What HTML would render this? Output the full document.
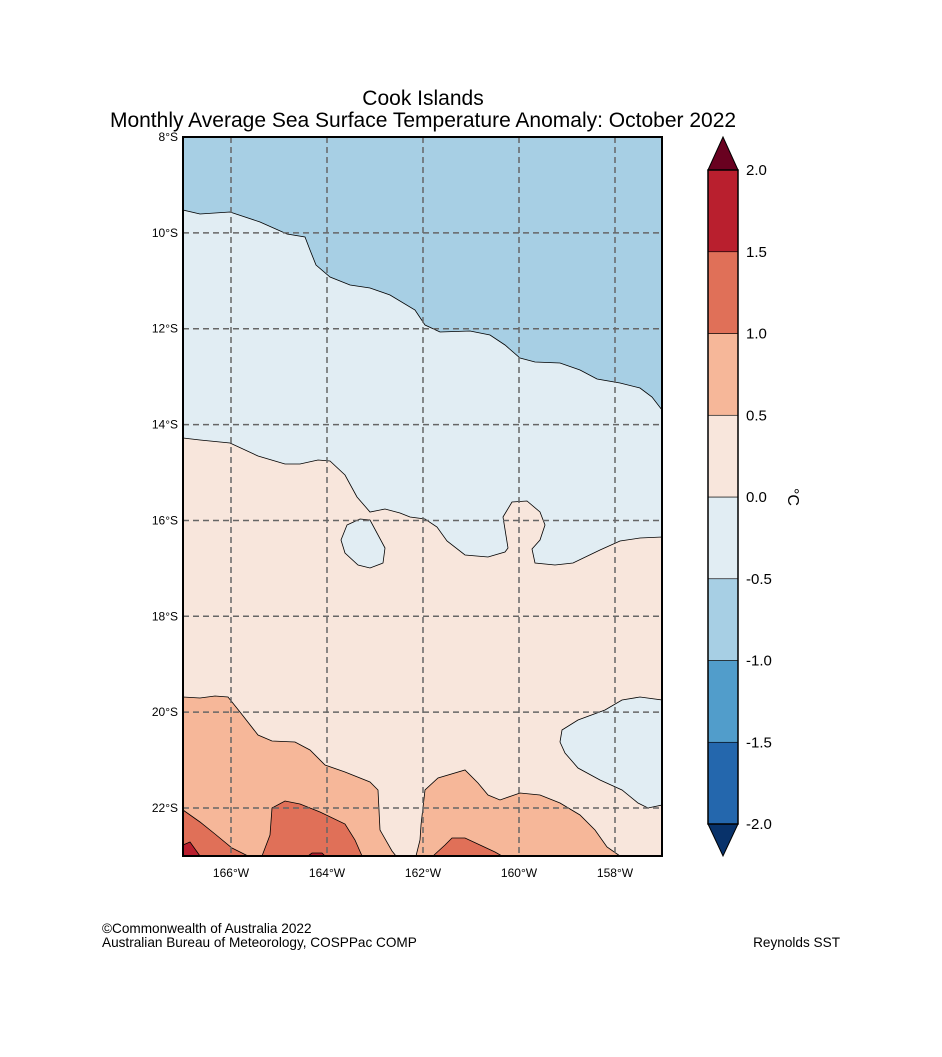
<!DOCTYPE html>
<html><head><meta charset="utf-8"><style>
body{margin:0;background:#fff;}
svg text{font-family:"Liberation Sans",sans-serif;}
</style></head><body>
<svg width="942" height="1052" xmlns="http://www.w3.org/2000/svg">
<rect width="942" height="1052" fill="#fff"/>
<text x="423" y="105" font-size="21" text-anchor="middle">Cook Islands</text>
<text x="423" y="127" font-size="21" text-anchor="middle">Monthly Average Sea Surface Temperature Anomaly: October 2022</text>
<g id="map" stroke="#000" stroke-width="0.8">
<rect x="183" y="137" width="479" height="719" fill="#e1edf3" stroke="none"/>
<path fill="#a7cfe4" d="M183,137 L662,137 L662,410 L652,397 L640,388 L620,383 L597,379 L580,370 L560,363 L535,362 L520,358 L505,345 L490,335 L470,331 L440,332 L425,325 L415,310 L390,295 L370,288 L350,285 L330,277 L316,265 L310,250 L305,237 L287,234 L260,222 L230,212 L200,214 L183,210 Z"/>
<path fill="#f8e6dc" d="M183,438 L200,440 L230,443 L258,456 L285,464 L300,464 L318,460 L330,461 L345,475 L357,497 L370,512 L385,509 L400,513 L410,517 L425,519 L437,527 L447,541 L465,555 L488,557 L505,552 L508,548 L503,517 L512,502 L527,501 L540,512 L545,525 L540,540 L532,549 L535,563 L555,565 L573,563 L600,550 L620,541 L640,538 L662,537 L662,856 L183,856 Z"/>
<path fill="#e1edf3" d="M347,525 L360,519 L370,520 L385,548 L383,563 L370,568 L358,565 L345,553 L341,540 Z"/>
<path fill="#e1edf3" d="M562,730 L578,720 L605,710 L622,700 L640,697 L662,700 L662,805 L648,808 L638,803 L622,790 L600,780 L578,768 L565,753 L560,742 Z"/>
<path fill="#f6b799" d="M183,697 L200,698 L215,696 L228,697 L240,712 L258,735 L272,741 L295,742 L310,750 L325,765 L345,772 L370,782 L378,790 L380,830 L392,851 L396,856 L183,856 Z"/>
<path fill="#f6b799" d="M416,856 L420,840 L421,825 L425,790 L438,778 L465,770 L478,783 L488,795 L500,800 L520,793 L540,795 L560,803 L580,815 L595,830 L607,847 L620,856 Z"/>
<path fill="#e07058" d="M183,810 L200,822 L215,834 L232,848 L248,856 L183,856 Z"/>
<path fill="#e07058" d="M262,856 L270,835 L272,808 L285,801 L300,804 L320,812 L345,824 L355,840 L362,856 Z"/>
<path fill="#e07058" d="M433,856 L445,845 L452,838 L465,838 L480,845 L495,852 L502,856 Z"/>
<path fill="#b91f2e" d="M183,845 L190,842 L200,856 L183,856 Z"/>
<path fill="#b91f2e" d="M308,856 L312,853 L322,853 L325,856 Z"/>
</g>
<g id="grid" stroke="#666" stroke-width="1.5" stroke-dasharray="6,4" fill="none"></g>
<rect x="183" y="137" width="479" height="719" fill="none" stroke="#000" stroke-width="2"/>
<g id="latlab" font-size="12"></g>
<g id="lonlab" font-size="12"></g>
<g id="cbar"></g>
<text transform="translate(788,497) rotate(90)" font-size="16" text-anchor="middle">°C</text>
<text x="102" y="933" font-size="13.6">©Commonwealth of Australia 2022</text>
<text x="102" y="947" font-size="13.6">Australian Bureau of Meteorology, COSPPac COMP</text>
<text x="840" y="947" font-size="13.6" text-anchor="end">Reynolds SST</text>
</svg>
<script>
const lonTicks=[166,164,162,160,158];
const latTicks=[8,10,12,14,16,18,20,22];
const levels=[-2,-1.5,-1,-0.5,0,0.5,1,1.5,2];
const levelColors=["#2467ad","#519dcb","#a7cfe4","#e1edf3","#f8e6dc","#f6b799","#e07058","#b91f2e"];
const extColors=["#08326a","#690120"];
const NS="http://www.w3.org/2000/svg";
const X=lon=>183+(167-lon)*48, Y=lat=>137+(lat-8)*47.93;
function mk(t,a,p){const e=document.createElementNS(NS,t);for(const k in a)e.setAttribute(k,a[k]);p.appendChild(e);return e;}
const grid=document.getElementById('grid');
lonTicks.forEach(l=>{const e=mk('line',{x1:X(l),x2:X(l),y1:137,y2:856},grid);


const t=mk('text',{x:X(l),y:877,'text-anchor':'middle'},document.getElementById('lonlab'));t.textContent=l+'°W';

});
latTicks.forEach(l=>{if(l>8){const e=mk('line',{x1:183,x2:662,y1:Y(l),y2:Y(l)},grid);

}
const t=mk('text',{x:178,y:Y(l)+4,'text-anchor':'end'},document.getElementById('latlab'));t.textContent=l+'°S';

});
const cb=document.getElementById('cbar');
const cbTop=170,cbBot=824,cx0=708,cx1=738;
const CY=v=>cbBot-(v-levels[0])/(levels[levels.length-1]-levels[0])*(cbBot-cbTop);
levelColors.forEach((c,i)=>{const r=mk('rect',{x:cx0,y:CY(levels[i+1]),width:cx1-cx0,height:CY(levels[i])-CY(levels[i+1]),fill:c,stroke:'#000','stroke-width':0.6},cb);

});
const up=mk('path',{d:`M${cx0},${cbTop} L${(cx0+cx1)/2},137 L${cx1},${cbTop} Z`,fill:extColors[1],stroke:'#000','stroke-width':1},cb);


const dn=mk('path',{d:`M${cx0},${cbBot} L${(cx0+cx1)/2},856 L${cx1},${cbBot} Z`,fill:extColors[0],stroke:'#000','stroke-width':1},cb);


mk('rect',{x:cx0,y:cbTop,width:cx1-cx0,height:cbBot-cbTop,fill:'none',stroke:'#000','stroke-width':1.5},cb);
levels.forEach(v=>{const t=mk('text',{x:746,y:CY(v)+5,'font-size':15},cb);t.textContent=v.toFixed(1);

});
</script>
</body></html>
